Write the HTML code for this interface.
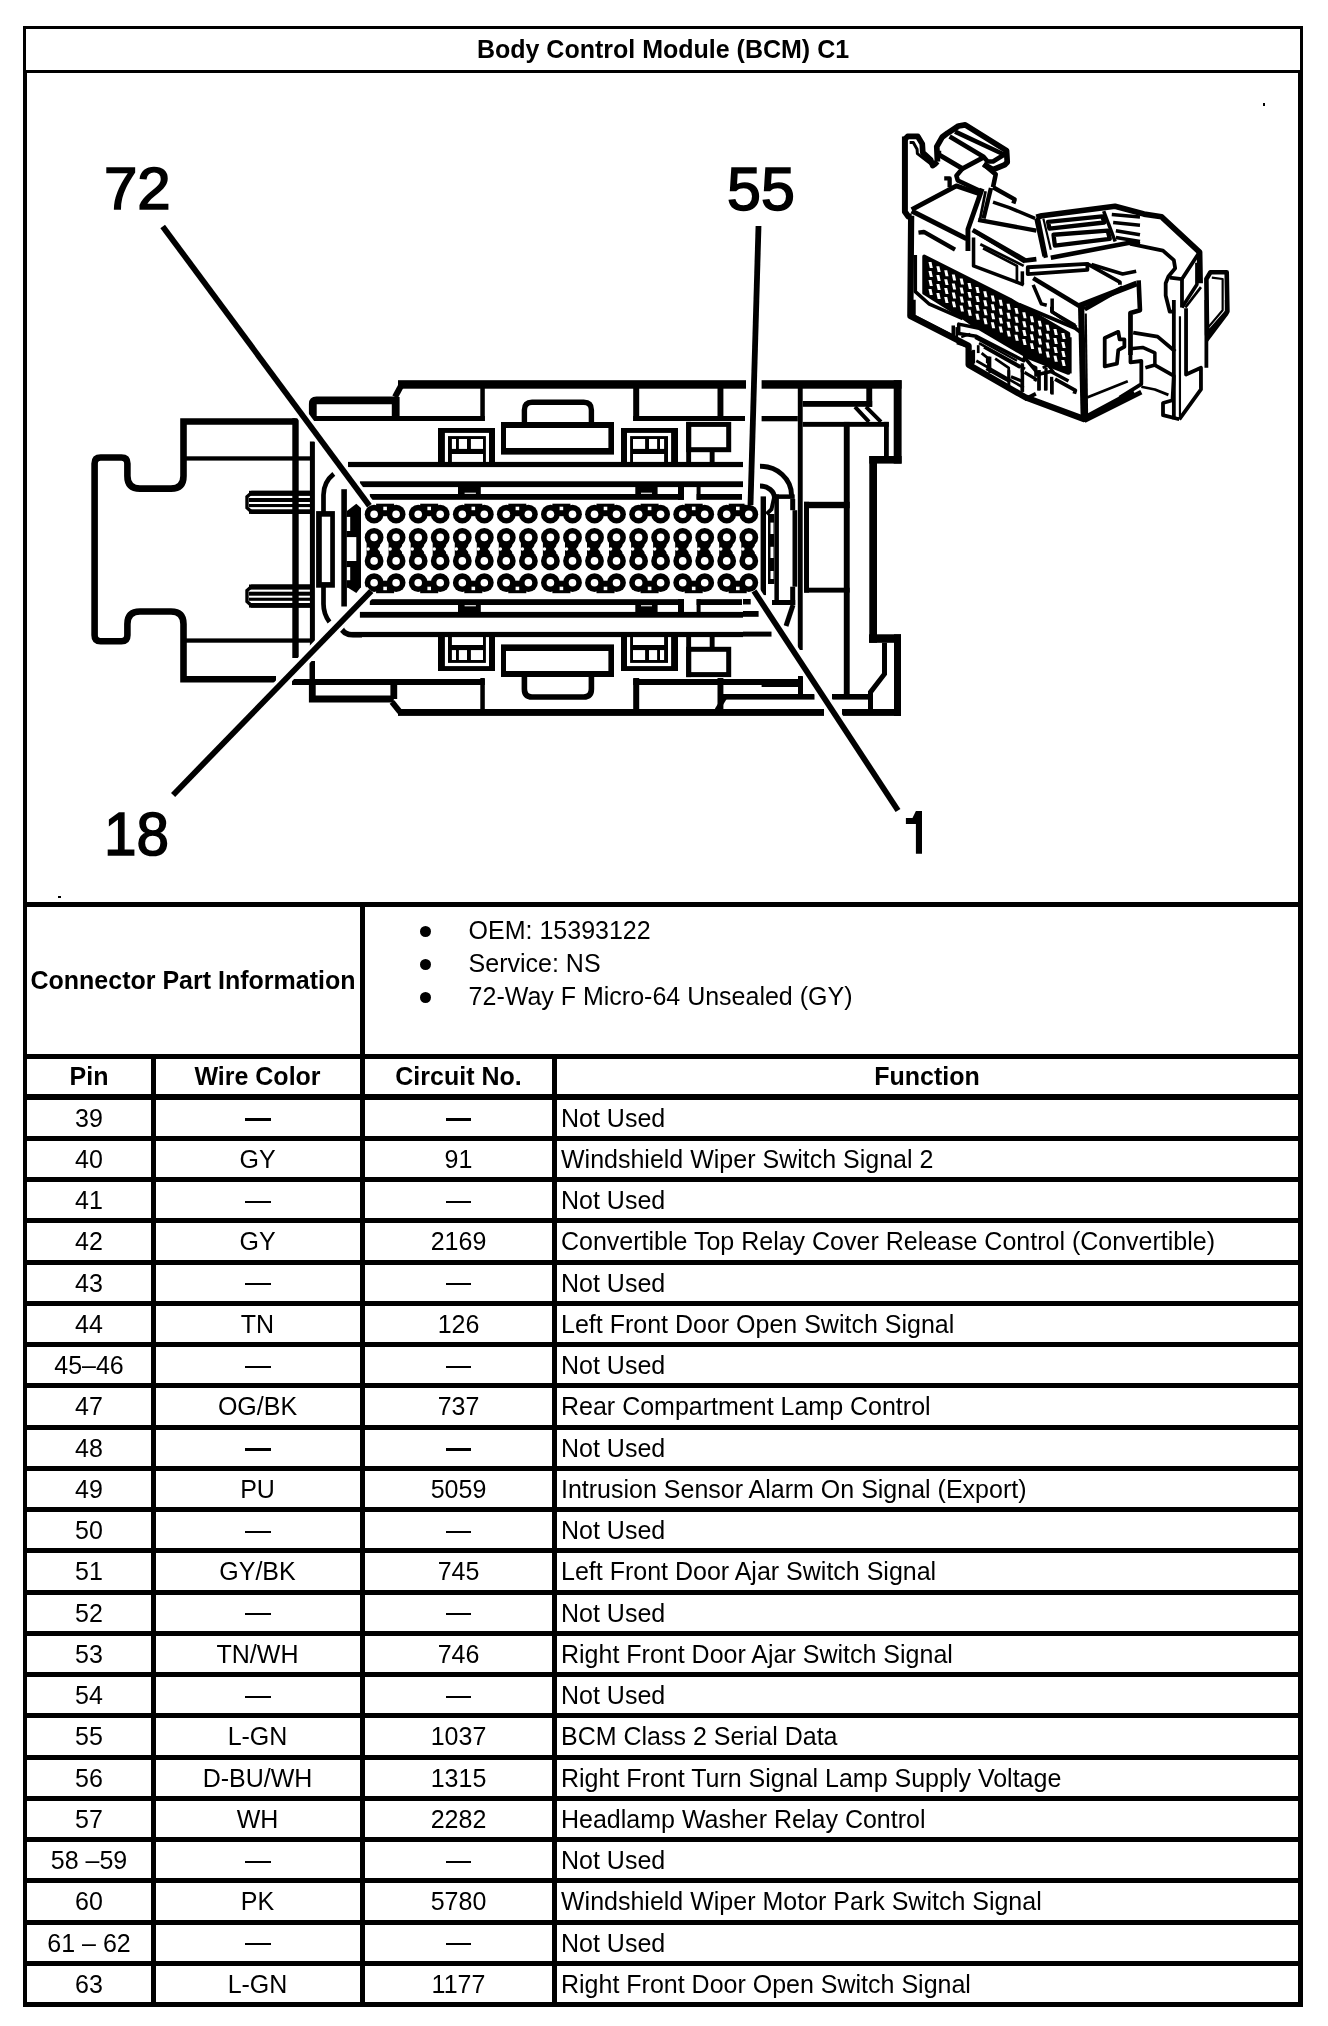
<!DOCTYPE html><html><head><meta charset="utf-8"><style>
html,body{margin:0;padding:0;background:#fff;width:1328px;height:2026px;overflow:hidden;position:relative}
body{filter:grayscale(1)}
.b{position:absolute;background:#000}
.t,.tb{position:absolute;font-family:"Liberation Sans",sans-serif;font-size:25px;line-height:0;color:#000;white-space:nowrap}
.tb{font-weight:bold}
.c{text-align:center}
.dot{position:absolute;width:11px;height:11px;border-radius:50%;background:#000}
svg{position:absolute;left:0;top:0}
</style></head><body>
<div class="b" style="left:23px;top:26px;width:1280px;height:3px"></div>
<div class="b" style="left:23px;top:70px;width:1280px;height:3px"></div>
<div class="b" style="left:23px;top:26px;width:3px;height:47px"></div>
<div class="b" style="left:1300px;top:26px;width:3px;height:47px"></div>
<div class="b" style="left:23px;top:70px;width:4px;height:1937px"></div>
<div class="b" style="left:1298px;top:70px;width:5px;height:1937px"></div>
<div class="b" style="left:23px;top:902px;width:1280px;height:5px"></div>
<div class="b" style="left:360px;top:902px;width:5px;height:1105px"></div>
<div class="b" style="left:23px;top:1054px;width:1280px;height:5px"></div>
<div class="b" style="left:23px;top:1094px;width:1280px;height:6px"></div>
<div class="b" style="left:151px;top:1054px;width:5px;height:953px"></div>
<div class="b" style="left:552px;top:1054px;width:5px;height:953px"></div>
<div class="b" style="left:23px;top:1136px;width:1280px;height:5px"></div>
<div class="b" style="left:23px;top:1177px;width:1280px;height:5px"></div>
<div class="b" style="left:23px;top:1218px;width:1280px;height:5px"></div>
<div class="b" style="left:23px;top:1260px;width:1280px;height:5px"></div>
<div class="b" style="left:23px;top:1301px;width:1280px;height:5px"></div>
<div class="b" style="left:23px;top:1342px;width:1280px;height:5px"></div>
<div class="b" style="left:23px;top:1383px;width:1280px;height:5px"></div>
<div class="b" style="left:23px;top:1425px;width:1280px;height:5px"></div>
<div class="b" style="left:23px;top:1466px;width:1280px;height:5px"></div>
<div class="b" style="left:23px;top:1507px;width:1280px;height:5px"></div>
<div class="b" style="left:23px;top:1548px;width:1280px;height:5px"></div>
<div class="b" style="left:23px;top:1590px;width:1280px;height:5px"></div>
<div class="b" style="left:23px;top:1631px;width:1280px;height:5px"></div>
<div class="b" style="left:23px;top:1672px;width:1280px;height:5px"></div>
<div class="b" style="left:23px;top:1713px;width:1280px;height:5px"></div>
<div class="b" style="left:23px;top:1755px;width:1280px;height:5px"></div>
<div class="b" style="left:23px;top:1796px;width:1280px;height:5px"></div>
<div class="b" style="left:23px;top:1837px;width:1280px;height:5px"></div>
<div class="b" style="left:23px;top:1878px;width:1280px;height:5px"></div>
<div class="b" style="left:23px;top:1920px;width:1280px;height:5px"></div>
<div class="b" style="left:23px;top:1961px;width:1280px;height:5px"></div>
<div class="b" style="left:23px;top:2002px;width:1280px;height:5px"></div>
<div class="b" style="left:58px;top:896px;width:3px;height:2px"></div>
<div class="tb c" style="left:363px;top:49.34px;width:600px;">Body Control Module (BCM) C1</div>
<div class="tb c" style="left:-107px;top:980.34px;width:600px;">Connector Part Information</div>
<div class="dot" style="left:419.5px;top:926.4px"></div>
<div class="t" style="left:468.6px;top:930.34px;">OEM: 15393122</div>
<div class="dot" style="left:419.5px;top:959.4px"></div>
<div class="t" style="left:468.6px;top:963.34px;">Service: NS</div>
<div class="dot" style="left:419.5px;top:992.4px"></div>
<div class="t" style="left:468.6px;top:996.34px;">72-Way F Micro-64 Unsealed (GY)</div>
<div class="tb c" style="left:-211px;top:1076.34px;width:600px;">Pin</div>
<div class="tb c" style="left:-42.5px;top:1076.34px;width:600px;">Wire Color</div>
<div class="tb c" style="left:158.5px;top:1076.34px;width:600px;">Circuit No.</div>
<div class="tb c" style="left:627px;top:1076.34px;width:600px;">Function</div>
<div class="t c" style="left:-211px;top:1117.74px;width:600px;">39</div>
<div class="b" style="left:245px;top:1118px;width:26px;height:3px"></div>
<div class="b" style="left:446px;top:1118px;width:25px;height:3px"></div>
<div class="t" style="left:561px;top:1117.74px;">Not Used</div>
<div class="t c" style="left:-211px;top:1158.98px;width:600px;">40</div>
<div class="t c" style="left:-42.5px;top:1158.98px;width:600px;">GY</div>
<div class="t c" style="left:158.5px;top:1158.98px;width:600px;">91</div>
<div class="t" style="left:561px;top:1158.98px;">Windshield Wiper Switch Signal 2</div>
<div class="t c" style="left:-211px;top:1200.22px;width:600px;">41</div>
<div class="b" style="left:245px;top:1201px;width:26px;height:2px"></div>
<div class="b" style="left:446px;top:1201px;width:25px;height:2px"></div>
<div class="t" style="left:561px;top:1200.22px;">Not Used</div>
<div class="t c" style="left:-211px;top:1241.46px;width:600px;">42</div>
<div class="t c" style="left:-42.5px;top:1241.46px;width:600px;">GY</div>
<div class="t c" style="left:158.5px;top:1241.46px;width:600px;">2169</div>
<div class="t" style="left:561px;top:1241.46px;">Convertible Top Relay Cover Release Control (Convertible)</div>
<div class="t c" style="left:-211px;top:1282.7px;width:600px;">43</div>
<div class="b" style="left:245px;top:1283px;width:26px;height:2px"></div>
<div class="b" style="left:446px;top:1283px;width:25px;height:2px"></div>
<div class="t" style="left:561px;top:1282.7px;">Not Used</div>
<div class="t c" style="left:-211px;top:1323.94px;width:600px;">44</div>
<div class="t c" style="left:-42.5px;top:1323.94px;width:600px;">TN</div>
<div class="t c" style="left:158.5px;top:1323.94px;width:600px;">126</div>
<div class="t" style="left:561px;top:1323.94px;">Left Front Door Open Switch Signal</div>
<div class="t c" style="left:-211px;top:1365.18px;width:600px;">45–46</div>
<div class="b" style="left:245px;top:1366px;width:26px;height:2px"></div>
<div class="b" style="left:446px;top:1366px;width:25px;height:2px"></div>
<div class="t" style="left:561px;top:1365.18px;">Not Used</div>
<div class="t c" style="left:-211px;top:1406.42px;width:600px;">47</div>
<div class="t c" style="left:-42.5px;top:1406.42px;width:600px;">OG/BK</div>
<div class="t c" style="left:158.5px;top:1406.42px;width:600px;">737</div>
<div class="t" style="left:561px;top:1406.42px;">Rear Compartment Lamp Control</div>
<div class="t c" style="left:-211px;top:1447.66px;width:600px;">48</div>
<div class="b" style="left:245px;top:1448px;width:26px;height:3px"></div>
<div class="b" style="left:446px;top:1448px;width:25px;height:3px"></div>
<div class="t" style="left:561px;top:1447.66px;">Not Used</div>
<div class="t c" style="left:-211px;top:1488.9px;width:600px;">49</div>
<div class="t c" style="left:-42.5px;top:1488.9px;width:600px;">PU</div>
<div class="t c" style="left:158.5px;top:1488.9px;width:600px;">5059</div>
<div class="t" style="left:561px;top:1488.9px;">Intrusion Sensor Alarm On Signal (Export)</div>
<div class="t c" style="left:-211px;top:1530.14px;width:600px;">50</div>
<div class="b" style="left:245px;top:1531px;width:26px;height:2px"></div>
<div class="b" style="left:446px;top:1531px;width:25px;height:2px"></div>
<div class="t" style="left:561px;top:1530.14px;">Not Used</div>
<div class="t c" style="left:-211px;top:1571.38px;width:600px;">51</div>
<div class="t c" style="left:-42.5px;top:1571.38px;width:600px;">GY/BK</div>
<div class="t c" style="left:158.5px;top:1571.38px;width:600px;">745</div>
<div class="t" style="left:561px;top:1571.38px;">Left Front Door Ajar Switch Signal</div>
<div class="t c" style="left:-211px;top:1612.62px;width:600px;">52</div>
<div class="b" style="left:245px;top:1613px;width:26px;height:2px"></div>
<div class="b" style="left:446px;top:1613px;width:25px;height:2px"></div>
<div class="t" style="left:561px;top:1612.62px;">Not Used</div>
<div class="t c" style="left:-211px;top:1653.86px;width:600px;">53</div>
<div class="t c" style="left:-42.5px;top:1653.86px;width:600px;">TN/WH</div>
<div class="t c" style="left:158.5px;top:1653.86px;width:600px;">746</div>
<div class="t" style="left:561px;top:1653.86px;">Right Front Door Ajar Switch Signal</div>
<div class="t c" style="left:-211px;top:1695.1px;width:600px;">54</div>
<div class="b" style="left:245px;top:1696px;width:26px;height:2px"></div>
<div class="b" style="left:446px;top:1696px;width:25px;height:2px"></div>
<div class="t" style="left:561px;top:1695.1px;">Not Used</div>
<div class="t c" style="left:-211px;top:1736.34px;width:600px;">55</div>
<div class="t c" style="left:-42.5px;top:1736.34px;width:600px;">L-GN</div>
<div class="t c" style="left:158.5px;top:1736.34px;width:600px;">1037</div>
<div class="t" style="left:561px;top:1736.34px;">BCM Class 2 Serial Data</div>
<div class="t c" style="left:-211px;top:1777.58px;width:600px;">56</div>
<div class="t c" style="left:-42.5px;top:1777.58px;width:600px;">D-BU/WH</div>
<div class="t c" style="left:158.5px;top:1777.58px;width:600px;">1315</div>
<div class="t" style="left:561px;top:1777.58px;">Right Front Turn Signal Lamp Supply Voltage</div>
<div class="t c" style="left:-211px;top:1818.82px;width:600px;">57</div>
<div class="t c" style="left:-42.5px;top:1818.82px;width:600px;">WH</div>
<div class="t c" style="left:158.5px;top:1818.82px;width:600px;">2282</div>
<div class="t" style="left:561px;top:1818.82px;">Headlamp Washer Relay Control</div>
<div class="t c" style="left:-211px;top:1860.06px;width:600px;">58 –59</div>
<div class="b" style="left:245px;top:1861px;width:26px;height:2px"></div>
<div class="b" style="left:446px;top:1861px;width:25px;height:2px"></div>
<div class="t" style="left:561px;top:1860.06px;">Not Used</div>
<div class="t c" style="left:-211px;top:1901.3px;width:600px;">60</div>
<div class="t c" style="left:-42.5px;top:1901.3px;width:600px;">PK</div>
<div class="t c" style="left:158.5px;top:1901.3px;width:600px;">5780</div>
<div class="t" style="left:561px;top:1901.3px;">Windshield Wiper Motor Park Switch Signal</div>
<div class="t c" style="left:-211px;top:1942.54px;width:600px;">61 – 62</div>
<div class="b" style="left:245px;top:1943px;width:26px;height:2px"></div>
<div class="b" style="left:446px;top:1943px;width:25px;height:2px"></div>
<div class="t" style="left:561px;top:1942.54px;">Not Used</div>
<div class="t c" style="left:-211px;top:1983.78px;width:600px;">63</div>
<div class="t c" style="left:-42.5px;top:1983.78px;width:600px;">L-GN</div>
<div class="t c" style="left:158.5px;top:1983.78px;width:600px;">1177</div>
<div class="t" style="left:561px;top:1983.78px;">Right Front Door Open Switch Signal</div>
<svg width="1328" height="2026" viewBox="0 0 1328 2026">
<path d="M 295.5 421.5 L 183.5 421.5 L 183.5 476 Q 183.5 488.6 171 488.6 L 140 488.6 Q 127.4 488.6 127.4 476 L 127.4 463.5 Q 127.4 457.5 121.4 457.5 L 100.6 457.5 Q 94.6 457.5 94.6 463.5 L 94.6 635.3 Q 94.6 641.3 100.6 641.3 L 121.4 641.3 Q 127.4 641.3 127.4 635.3 L 127.4 624 Q 127.4 611.5 140 611.5 L 171 611.5 Q 183.5 611.5 183.5 624 L 183.5 679.3 L 276 679.3" fill="none" stroke="#000" stroke-width="6.6" />
<rect x="292.3" y="418.2" width="6.4" height="239.8" fill="#000"/>
<rect x="183.5" y="456.3" width="128.5" height="4.3" fill="#000"/>
<rect x="183.5" y="638.4" width="128.5" height="4.3" fill="#000"/>
<path d="M 310 492.40000000000003 L 252 492.40000000000003 L 247 496.8 L 247 507.8 L 252 512.3 L 310 512.3" fill="none" stroke="#000" stroke-width="3.4" />
<rect x="249.0" y="498.0" width="61.0" height="4.0" fill="#000"/>
<rect x="249.0" y="504.0" width="61.0" height="3.1" fill="#000"/>
<rect x="249.0" y="509.3" width="61.0" height="4.6" fill="#000"/>
<rect x="249.0" y="490.8" width="61.0" height="5.1" fill="#000"/>
<path d="M 310 586.1 L 252 586.1 L 247 590.5 L 247 601.5 L 252 606.0 L 310 606.0" fill="none" stroke="#000" stroke-width="3.4" />
<rect x="249.0" y="591.7" width="61.0" height="4.0" fill="#000"/>
<rect x="249.0" y="597.7" width="61.0" height="3.1" fill="#000"/>
<rect x="249.0" y="603.0" width="61.0" height="4.6" fill="#000"/>
<rect x="249.0" y="584.5" width="61.0" height="5.1" fill="#000"/>
<rect x="309.9" y="441.5" width="5.0" height="216.0" fill="#000"/>
<path d="M 333.8 473.8 Q 323.5 482 323.5 495 L 323.5 604 Q 323.5 614 329.5 622" fill="none" stroke="#000" stroke-width="4.7" />
<rect x="316.1" y="511.1" width="18.8" height="76.6" fill="#000"/>
<rect x="321.8" y="516.7" width="8.4" height="65.4" fill="#fff"/>
<path d="M 344.1 489.2 L 344.1 606.5" fill="none" stroke="#000" stroke-width="5.6" />
<rect x="346.9" y="511.0" width="14.1" height="76.7" fill="#000"/>
<rect x="346.9" y="516.9" width="3.3" height="14.1" fill="#fff"/>
<rect x="346.9" y="537.1" width="9.4" height="23.9" fill="#fff"/>
<rect x="346.9" y="567.1" width="3.3" height="13.1" fill="#fff"/>
<rect x="398.0" y="380.2" width="348.0" height="8.5" fill="#000"/>
<rect x="761.6" y="380.2" width="140.0" height="8.5" fill="#000"/>
<rect x="398.0" y="709.0" width="426.0" height="6.9" fill="#000"/>
<rect x="842.0" y="709.0" width="59.0" height="6.9" fill="#000"/>
<path d="M 395 397 L 402 384" fill="none" stroke="#000" stroke-width="6" />
<path d="M 392 702 L 400 712" fill="none" stroke="#000" stroke-width="6" />
<path d="M 395.7 397 L 395.7 418.5 M 312.8 418.5 L 312.8 404 Q 312.8 400.4 316.5 400.4 L 395.7 400.4" fill="none" stroke="#000" stroke-width="7.8" stroke-linejoin="miter"/>
<path d="M 393.8 680 L 393.8 699 M 312.3 680 L 312.3 699 L 393.8 699" fill="none" stroke="#000" stroke-width="6.8" />
<rect x="308.9" y="416.0" width="175.9" height="5.0" fill="#000"/>
<rect x="292.0" y="679.0" width="192.8" height="6.0" fill="#000"/>
<rect x="309.5" y="661.0" width="5.5" height="41.0" fill="#000"/>
<path d="M 341 627 Q 343 634.8 353 634.8 L 362 634.8" fill="none" stroke="#000" stroke-width="5.3" />
<polygon points="346.9,511 356.3,503.8 361,508 361,511" fill="#000"/>
<polygon points="346.9,587 361,587 356.3,593" fill="#000"/>
<rect x="480.3" y="386.0" width="4.5" height="35.0" fill="#000"/>
<rect x="480.3" y="678.0" width="4.5" height="35.0" fill="#000"/>
<rect x="633.2" y="386.0" width="6.0" height="35.0" fill="#000"/>
<rect x="633.2" y="678.0" width="6.0" height="35.0" fill="#000"/>
<rect x="717.5" y="386.0" width="5.9" height="35.0" fill="#000"/>
<rect x="717.5" y="678.0" width="5.9" height="35.0" fill="#000"/>
<rect x="633.2" y="416.0" width="111.8" height="5.0" fill="#000"/>
<rect x="633.2" y="679.0" width="165.4" height="6.0" fill="#000"/>
<rect x="761.6" y="416.0" width="36.2" height="5.3" fill="#000"/>
<rect x="761.6" y="680.8" width="37.0" height="6.2" fill="#000"/>
<path d="M 524.4 422 L 524.4 410 Q 524.4 402.2 532 402.2 L 583.7 402.2 Q 591.4 402.2 591.4 410 L 591.4 422" fill="none" stroke="#000" stroke-width="5.4" />
<path d="M 524.4 677 L 524.4 689 Q 524.4 697 532 697 L 583.7 697 Q 591.4 697 591.4 689 L 591.4 677" fill="none" stroke="#000" stroke-width="5.6" />
<rect x="501.0" y="422.0" width="113.0" height="32.6" fill="#000"/>
<rect x="501.0" y="644.4" width="113.0" height="32.6" fill="#000"/>
<rect x="506.0" y="428.0" width="102.4" height="20.0" fill="#fff"/>
<rect x="506.0" y="651.0" width="102.4" height="20.0" fill="#fff"/>
<rect x="438.0" y="428.0" width="57.0" height="34.2" fill="#000"/>
<rect x="438.0" y="636.8" width="57.0" height="34.2" fill="#000"/>
<rect x="444.9" y="432.9" width="44.1" height="29.3" fill="#fff"/>
<rect x="444.9" y="636.8" width="44.1" height="29.3" fill="#fff"/>
<rect x="448.0" y="436.1" width="37.9" height="26.1" fill="#000"/>
<rect x="448.0" y="636.8" width="37.9" height="26.1" fill="#000"/>
<rect x="451.9" y="439.0" width="4.1" height="9.9" fill="#fff"/>
<rect x="451.9" y="650.1" width="4.1" height="9.9" fill="#fff"/>
<rect x="458.9" y="439.0" width="8.1" height="9.9" fill="#fff"/>
<rect x="458.9" y="650.1" width="8.1" height="9.9" fill="#fff"/>
<rect x="470.9" y="439.0" width="12.1" height="9.9" fill="#fff"/>
<rect x="470.9" y="650.1" width="12.1" height="9.9" fill="#fff"/>
<rect x="451.9" y="454.0" width="31.1" height="8.2" fill="#fff"/>
<rect x="451.9" y="636.8" width="31.1" height="8.2" fill="#fff"/>
<rect x="621.0" y="428.0" width="57.0" height="34.2" fill="#000"/>
<rect x="621.0" y="636.8" width="57.0" height="34.2" fill="#000"/>
<rect x="627.0" y="432.9" width="44.1" height="29.3" fill="#fff"/>
<rect x="627.0" y="636.8" width="44.1" height="29.3" fill="#fff"/>
<rect x="630.1" y="436.1" width="37.9" height="26.1" fill="#000"/>
<rect x="630.1" y="636.8" width="37.9" height="26.1" fill="#000"/>
<rect x="660.0" y="439.0" width="4.1" height="9.9" fill="#fff"/>
<rect x="660.0" y="650.1" width="4.1" height="9.9" fill="#fff"/>
<rect x="649.0" y="439.0" width="8.1" height="9.9" fill="#fff"/>
<rect x="649.0" y="650.1" width="8.1" height="9.9" fill="#fff"/>
<rect x="633.0" y="439.0" width="12.1" height="9.9" fill="#fff"/>
<rect x="633.0" y="650.1" width="12.1" height="9.9" fill="#fff"/>
<rect x="633.0" y="454.0" width="31.1" height="8.2" fill="#fff"/>
<rect x="633.0" y="636.8" width="31.1" height="8.2" fill="#fff"/>
<rect x="686.2" y="421.9" width="45.0" height="30.3" fill="#000"/>
<rect x="686.2" y="646.8" width="45.0" height="30.3" fill="#000"/>
<rect x="691.2" y="426.9" width="35.0" height="20.3" fill="#fff"/>
<rect x="691.2" y="651.8" width="35.0" height="20.3" fill="#fff"/>
<rect x="709.7" y="452.0" width="4.9" height="10.0" fill="#000"/>
<rect x="709.7" y="637.0" width="4.9" height="10.0" fill="#000"/>
<rect x="686.2" y="421.9" width="4.9" height="40.1" fill="#000"/>
<rect x="686.2" y="637.0" width="4.9" height="40.1" fill="#000"/>
<rect x="348.0" y="461.9" width="395.0" height="5.2" fill="#000"/>
<rect x="348.0" y="631.9" width="395.0" height="5.2" fill="#000"/>
<rect x="359.9" y="481.3" width="383.1" height="5.8" fill="#000"/>
<rect x="359.9" y="611.9" width="383.1" height="5.8" fill="#000"/>
<rect x="369.8" y="494.0" width="314.2" height="5.8" fill="#000"/>
<rect x="369.8" y="599.2" width="314.2" height="5.8" fill="#000"/>
<rect x="696.6" y="494.0" width="45.4" height="5.8" fill="#000"/>
<rect x="696.6" y="599.2" width="45.4" height="5.8" fill="#000"/>
<rect x="458.0" y="486.0" width="22.8" height="9.0" fill="#000"/>
<rect x="458.0" y="604.0" width="22.8" height="9.0" fill="#000"/>
<rect x="464.6" y="492.7" width="11.3" height="1.1" fill="#fff"/>
<rect x="464.6" y="605.2" width="11.3" height="1.1" fill="#fff"/>
<rect x="635.3" y="486.0" width="22.3" height="9.0" fill="#000"/>
<rect x="635.3" y="604.0" width="22.3" height="9.0" fill="#000"/>
<rect x="641.0" y="492.7" width="11.0" height="1.1" fill="#fff"/>
<rect x="641.0" y="605.2" width="11.0" height="1.1" fill="#fff"/>
<rect x="678.0" y="486.0" width="6.0" height="13.8" fill="#000"/>
<rect x="678.0" y="599.2" width="6.0" height="13.8" fill="#000"/>
<rect x="696.6" y="486.0" width="4.0" height="13.8" fill="#000"/>
<rect x="696.6" y="599.2" width="4.0" height="13.8" fill="#000"/>
<rect x="893.7" y="380.2" width="7.9" height="83.4" fill="#000"/>
<rect x="869.3" y="456.0" width="32.3" height="7.6" fill="#000"/>
<rect x="869.3" y="456.0" width="7.7" height="186.8" fill="#000"/>
<rect x="869.0" y="634.3" width="32.0" height="8.5" fill="#000"/>
<rect x="894.0" y="634.3" width="7.0" height="81.6" fill="#000"/>
<rect x="884.0" y="421.9" width="4.8" height="34.1" fill="#000"/>
<path d="M 884.5 642.8 L 884.5 674 L 870.5 692.2 L 870.5 709" fill="none" stroke="#000" stroke-width="5" />
<rect x="797.8" y="386.0" width="4.9" height="264.0" fill="#000"/>
<rect x="798.0" y="676.0" width="5.0" height="18.0" fill="#000"/>
<rect x="802.7" y="401.0" width="69.5" height="5.8" fill="#000"/>
<rect x="866.3" y="386.0" width="5.9" height="20.8" fill="#000"/>
<path d="M 855 406.8 L 869 421.9 M 866 406.8 L 881 421.9" fill="none" stroke="#000" stroke-width="4" />
<rect x="802.7" y="421.9" width="86.1" height="4.9" fill="#000"/>
<rect x="843.8" y="421.9" width="5.9" height="272.5" fill="#000"/>
<rect x="804.0" y="501.8" width="45.7" height="6.4" fill="#000"/>
<rect x="804.0" y="501.8" width="5.0" height="90.8" fill="#000"/>
<rect x="804.0" y="587.7" width="45.7" height="4.9" fill="#000"/>
<rect x="832.0" y="694.0" width="37.0" height="5.6" fill="#000"/>
<rect x="722.0" y="694.0" width="92.5" height="5.6" fill="#000"/>
<path d="M 717 710 L 725 697" fill="none" stroke="#000" stroke-width="5" />
<path d="M 760 466.3 A 31 29 0 0 1 791.5 495" fill="none" stroke="#000" stroke-width="5" />
<path d="M 760 486 A 14.5 12 0 0 1 774.5 498" fill="none" stroke="#000" stroke-width="5" />
<path d="M 774 498 L 771.5 509.2 L 766.5 514.2" fill="none" stroke="#000" stroke-width="4" />
<rect x="760.6" y="496.4" width="5.4" height="98.7" fill="#000"/>
<rect x="768.0" y="514.0" width="6.4" height="70.0" fill="#000"/>
<rect x="770.5" y="522.6" width="3.0" height="11.4" fill="#fff"/>
<rect x="770.5" y="546.8" width="3.0" height="11.2" fill="#fff"/>
<rect x="770.5" y="571.0" width="3.0" height="8.0" fill="#fff"/>
<rect x="774.4" y="494.4" width="4.5" height="110.6" fill="#000"/>
<rect x="774.4" y="494.4" width="20.3" height="4.5" fill="#000"/>
<rect x="790.2" y="498.9" width="5.0" height="11.3" fill="#000"/>
<rect x="792.5" y="510.2" width="4.7" height="76.5" fill="#000"/>
<rect x="790.2" y="586.7" width="5.0" height="18.3" fill="#000"/>
<rect x="772.0" y="600.0" width="23.2" height="5.0" fill="#000"/>
<path d="M 793 605 L 786 626" fill="none" stroke="#000" stroke-width="5" />
<rect x="743.0" y="599.0" width="7.7" height="5.5" fill="#000"/>
<rect x="743.0" y="611.0" width="15.6" height="5.8" fill="#000"/>
<rect x="743.0" y="631.6" width="28.5" height="5.0" fill="#000"/>
<circle cx="374.1" cy="514.2" r="9.4" fill="#000"/>
<circle cx="374.1" cy="537.4" r="9.4" fill="#000"/>
<circle cx="374.1" cy="560.9" r="9.4" fill="#000"/>
<circle cx="374.1" cy="582.7" r="9.4" fill="#000"/>
<rect x="366.6" y="537.4" width="13.5" height="23.5" fill="#000"/>
<circle cx="396.1" cy="514.2" r="9.4" fill="#000"/>
<circle cx="396.1" cy="537.4" r="9.4" fill="#000"/>
<circle cx="396.1" cy="560.9" r="9.4" fill="#000"/>
<circle cx="396.1" cy="582.7" r="9.4" fill="#000"/>
<rect x="388.6" y="537.4" width="13.5" height="23.5" fill="#000"/>
<circle cx="418.2" cy="514.2" r="9.4" fill="#000"/>
<circle cx="418.2" cy="537.4" r="9.4" fill="#000"/>
<circle cx="418.2" cy="560.9" r="9.4" fill="#000"/>
<circle cx="418.2" cy="582.7" r="9.4" fill="#000"/>
<rect x="410.7" y="537.4" width="13.5" height="23.5" fill="#000"/>
<circle cx="440.2" cy="514.2" r="9.4" fill="#000"/>
<circle cx="440.2" cy="537.4" r="9.4" fill="#000"/>
<circle cx="440.2" cy="560.9" r="9.4" fill="#000"/>
<circle cx="440.2" cy="582.7" r="9.4" fill="#000"/>
<rect x="432.7" y="537.4" width="13.5" height="23.5" fill="#000"/>
<circle cx="462.3" cy="514.2" r="9.4" fill="#000"/>
<circle cx="462.3" cy="537.4" r="9.4" fill="#000"/>
<circle cx="462.3" cy="560.9" r="9.4" fill="#000"/>
<circle cx="462.3" cy="582.7" r="9.4" fill="#000"/>
<rect x="454.8" y="537.4" width="13.5" height="23.5" fill="#000"/>
<circle cx="484.3" cy="514.2" r="9.4" fill="#000"/>
<circle cx="484.3" cy="537.4" r="9.4" fill="#000"/>
<circle cx="484.3" cy="560.9" r="9.4" fill="#000"/>
<circle cx="484.3" cy="582.7" r="9.4" fill="#000"/>
<rect x="476.8" y="537.4" width="13.5" height="23.5" fill="#000"/>
<circle cx="506.3" cy="514.2" r="9.4" fill="#000"/>
<circle cx="506.3" cy="537.4" r="9.4" fill="#000"/>
<circle cx="506.3" cy="560.9" r="9.4" fill="#000"/>
<circle cx="506.3" cy="582.7" r="9.4" fill="#000"/>
<rect x="498.8" y="537.4" width="13.5" height="23.5" fill="#000"/>
<circle cx="528.4" cy="514.2" r="9.4" fill="#000"/>
<circle cx="528.4" cy="537.4" r="9.4" fill="#000"/>
<circle cx="528.4" cy="560.9" r="9.4" fill="#000"/>
<circle cx="528.4" cy="582.7" r="9.4" fill="#000"/>
<rect x="520.9" y="537.4" width="13.5" height="23.5" fill="#000"/>
<circle cx="550.4" cy="514.2" r="9.4" fill="#000"/>
<circle cx="550.4" cy="537.4" r="9.4" fill="#000"/>
<circle cx="550.4" cy="560.9" r="9.4" fill="#000"/>
<circle cx="550.4" cy="582.7" r="9.4" fill="#000"/>
<rect x="542.9" y="537.4" width="13.5" height="23.5" fill="#000"/>
<circle cx="572.5" cy="514.2" r="9.4" fill="#000"/>
<circle cx="572.5" cy="537.4" r="9.4" fill="#000"/>
<circle cx="572.5" cy="560.9" r="9.4" fill="#000"/>
<circle cx="572.5" cy="582.7" r="9.4" fill="#000"/>
<rect x="565.0" y="537.4" width="13.5" height="23.5" fill="#000"/>
<circle cx="594.5" cy="514.2" r="9.4" fill="#000"/>
<circle cx="594.5" cy="537.4" r="9.4" fill="#000"/>
<circle cx="594.5" cy="560.9" r="9.4" fill="#000"/>
<circle cx="594.5" cy="582.7" r="9.4" fill="#000"/>
<rect x="587.0" y="537.4" width="13.5" height="23.5" fill="#000"/>
<circle cx="616.5" cy="514.2" r="9.4" fill="#000"/>
<circle cx="616.5" cy="537.4" r="9.4" fill="#000"/>
<circle cx="616.5" cy="560.9" r="9.4" fill="#000"/>
<circle cx="616.5" cy="582.7" r="9.4" fill="#000"/>
<rect x="609.0" y="537.4" width="13.5" height="23.5" fill="#000"/>
<circle cx="638.6" cy="514.2" r="9.4" fill="#000"/>
<circle cx="638.6" cy="537.4" r="9.4" fill="#000"/>
<circle cx="638.6" cy="560.9" r="9.4" fill="#000"/>
<circle cx="638.6" cy="582.7" r="9.4" fill="#000"/>
<rect x="631.1" y="537.4" width="13.5" height="23.5" fill="#000"/>
<circle cx="660.6" cy="514.2" r="9.4" fill="#000"/>
<circle cx="660.6" cy="537.4" r="9.4" fill="#000"/>
<circle cx="660.6" cy="560.9" r="9.4" fill="#000"/>
<circle cx="660.6" cy="582.7" r="9.4" fill="#000"/>
<rect x="653.1" y="537.4" width="13.5" height="23.5" fill="#000"/>
<circle cx="682.7" cy="514.2" r="9.4" fill="#000"/>
<circle cx="682.7" cy="537.4" r="9.4" fill="#000"/>
<circle cx="682.7" cy="560.9" r="9.4" fill="#000"/>
<circle cx="682.7" cy="582.7" r="9.4" fill="#000"/>
<rect x="675.2" y="537.4" width="13.5" height="23.5" fill="#000"/>
<circle cx="704.7" cy="514.2" r="9.4" fill="#000"/>
<circle cx="704.7" cy="537.4" r="9.4" fill="#000"/>
<circle cx="704.7" cy="560.9" r="9.4" fill="#000"/>
<circle cx="704.7" cy="582.7" r="9.4" fill="#000"/>
<rect x="697.2" y="537.4" width="13.5" height="23.5" fill="#000"/>
<circle cx="726.7" cy="514.2" r="9.4" fill="#000"/>
<circle cx="726.7" cy="537.4" r="9.4" fill="#000"/>
<circle cx="726.7" cy="560.9" r="9.4" fill="#000"/>
<circle cx="726.7" cy="582.7" r="9.4" fill="#000"/>
<rect x="719.2" y="537.4" width="13.5" height="23.5" fill="#000"/>
<circle cx="748.8" cy="514.2" r="9.4" fill="#000"/>
<circle cx="748.8" cy="537.4" r="9.4" fill="#000"/>
<circle cx="748.8" cy="560.9" r="9.4" fill="#000"/>
<circle cx="748.8" cy="582.7" r="9.4" fill="#000"/>
<rect x="741.3" y="537.4" width="13.5" height="23.5" fill="#000"/>
<rect x="376.1" y="503.7" width="18.0" height="12.5" fill="#000"/>
<rect x="376.1" y="580.7" width="18.0" height="12.5" fill="#000"/>
<rect x="420.2" y="503.7" width="18.0" height="12.5" fill="#000"/>
<rect x="420.2" y="580.7" width="18.0" height="12.5" fill="#000"/>
<rect x="464.3" y="503.7" width="18.0" height="12.5" fill="#000"/>
<rect x="464.3" y="580.7" width="18.0" height="12.5" fill="#000"/>
<rect x="508.3" y="503.7" width="18.0" height="12.5" fill="#000"/>
<rect x="508.3" y="580.7" width="18.0" height="12.5" fill="#000"/>
<rect x="552.4" y="503.7" width="18.0" height="12.5" fill="#000"/>
<rect x="552.4" y="580.7" width="18.0" height="12.5" fill="#000"/>
<rect x="596.5" y="503.7" width="18.0" height="12.5" fill="#000"/>
<rect x="596.5" y="580.7" width="18.0" height="12.5" fill="#000"/>
<rect x="640.6" y="503.7" width="18.0" height="12.5" fill="#000"/>
<rect x="640.6" y="580.7" width="18.0" height="12.5" fill="#000"/>
<rect x="684.7" y="503.7" width="18.0" height="12.5" fill="#000"/>
<rect x="684.7" y="580.7" width="18.0" height="12.5" fill="#000"/>
<rect x="728.7" y="503.7" width="18.0" height="12.5" fill="#000"/>
<rect x="728.7" y="580.7" width="18.0" height="12.5" fill="#000"/>
<circle cx="374.1" cy="514.2" r="3.8" fill="#fff"/>
<circle cx="374.1" cy="537.4" r="3.8" fill="#fff"/>
<circle cx="374.1" cy="560.9" r="3.8" fill="#fff"/>
<circle cx="374.1" cy="582.7" r="3.8" fill="#fff"/>
<circle cx="368.1" cy="549.0" r="1.8" fill="#fff"/>
<polygon points="384.1,541 377.6,549 384.1,557" fill="#fff"/>
<circle cx="396.1" cy="514.2" r="3.8" fill="#fff"/>
<circle cx="396.1" cy="537.4" r="3.8" fill="#fff"/>
<circle cx="396.1" cy="560.9" r="3.8" fill="#fff"/>
<circle cx="396.1" cy="582.7" r="3.8" fill="#fff"/>
<circle cx="390.1" cy="549.0" r="1.8" fill="#fff"/>
<polygon points="406.1,541 399.6,549 406.1,557" fill="#fff"/>
<circle cx="418.2" cy="514.2" r="3.8" fill="#fff"/>
<circle cx="418.2" cy="537.4" r="3.8" fill="#fff"/>
<circle cx="418.2" cy="560.9" r="3.8" fill="#fff"/>
<circle cx="418.2" cy="582.7" r="3.8" fill="#fff"/>
<circle cx="412.2" cy="549.0" r="1.8" fill="#fff"/>
<polygon points="428.2,541 421.7,549 428.2,557" fill="#fff"/>
<circle cx="440.2" cy="514.2" r="3.8" fill="#fff"/>
<circle cx="440.2" cy="537.4" r="3.8" fill="#fff"/>
<circle cx="440.2" cy="560.9" r="3.8" fill="#fff"/>
<circle cx="440.2" cy="582.7" r="3.8" fill="#fff"/>
<circle cx="434.2" cy="549.0" r="1.8" fill="#fff"/>
<polygon points="450.2,541 443.7,549 450.2,557" fill="#fff"/>
<circle cx="462.3" cy="514.2" r="3.8" fill="#fff"/>
<circle cx="462.3" cy="537.4" r="3.8" fill="#fff"/>
<circle cx="462.3" cy="560.9" r="3.8" fill="#fff"/>
<circle cx="462.3" cy="582.7" r="3.8" fill="#fff"/>
<circle cx="456.3" cy="549.0" r="1.8" fill="#fff"/>
<polygon points="472.3,541 465.8,549 472.3,557" fill="#fff"/>
<circle cx="484.3" cy="514.2" r="3.8" fill="#fff"/>
<circle cx="484.3" cy="537.4" r="3.8" fill="#fff"/>
<circle cx="484.3" cy="560.9" r="3.8" fill="#fff"/>
<circle cx="484.3" cy="582.7" r="3.8" fill="#fff"/>
<circle cx="478.3" cy="549.0" r="1.8" fill="#fff"/>
<polygon points="494.3,541 487.8,549 494.3,557" fill="#fff"/>
<circle cx="506.3" cy="514.2" r="3.8" fill="#fff"/>
<circle cx="506.3" cy="537.4" r="3.8" fill="#fff"/>
<circle cx="506.3" cy="560.9" r="3.8" fill="#fff"/>
<circle cx="506.3" cy="582.7" r="3.8" fill="#fff"/>
<circle cx="500.3" cy="549.0" r="1.8" fill="#fff"/>
<polygon points="516.3,541 509.8,549 516.3,557" fill="#fff"/>
<circle cx="528.4" cy="514.2" r="3.8" fill="#fff"/>
<circle cx="528.4" cy="537.4" r="3.8" fill="#fff"/>
<circle cx="528.4" cy="560.9" r="3.8" fill="#fff"/>
<circle cx="528.4" cy="582.7" r="3.8" fill="#fff"/>
<circle cx="522.4" cy="549.0" r="1.8" fill="#fff"/>
<polygon points="538.4,541 531.9,549 538.4,557" fill="#fff"/>
<circle cx="550.4" cy="514.2" r="3.8" fill="#fff"/>
<circle cx="550.4" cy="537.4" r="3.8" fill="#fff"/>
<circle cx="550.4" cy="560.9" r="3.8" fill="#fff"/>
<circle cx="550.4" cy="582.7" r="3.8" fill="#fff"/>
<circle cx="544.4" cy="549.0" r="1.8" fill="#fff"/>
<polygon points="560.4,541 553.9,549 560.4,557" fill="#fff"/>
<circle cx="572.5" cy="514.2" r="3.8" fill="#fff"/>
<circle cx="572.5" cy="537.4" r="3.8" fill="#fff"/>
<circle cx="572.5" cy="560.9" r="3.8" fill="#fff"/>
<circle cx="572.5" cy="582.7" r="3.8" fill="#fff"/>
<circle cx="566.5" cy="549.0" r="1.8" fill="#fff"/>
<polygon points="582.5,541 576.0,549 582.5,557" fill="#fff"/>
<circle cx="594.5" cy="514.2" r="3.8" fill="#fff"/>
<circle cx="594.5" cy="537.4" r="3.8" fill="#fff"/>
<circle cx="594.5" cy="560.9" r="3.8" fill="#fff"/>
<circle cx="594.5" cy="582.7" r="3.8" fill="#fff"/>
<circle cx="588.5" cy="549.0" r="1.8" fill="#fff"/>
<polygon points="604.5,541 598.0,549 604.5,557" fill="#fff"/>
<circle cx="616.5" cy="514.2" r="3.8" fill="#fff"/>
<circle cx="616.5" cy="537.4" r="3.8" fill="#fff"/>
<circle cx="616.5" cy="560.9" r="3.8" fill="#fff"/>
<circle cx="616.5" cy="582.7" r="3.8" fill="#fff"/>
<circle cx="610.5" cy="549.0" r="1.8" fill="#fff"/>
<polygon points="626.5,541 620.0,549 626.5,557" fill="#fff"/>
<circle cx="638.6" cy="514.2" r="3.8" fill="#fff"/>
<circle cx="638.6" cy="537.4" r="3.8" fill="#fff"/>
<circle cx="638.6" cy="560.9" r="3.8" fill="#fff"/>
<circle cx="638.6" cy="582.7" r="3.8" fill="#fff"/>
<circle cx="632.6" cy="549.0" r="1.8" fill="#fff"/>
<polygon points="648.6,541 642.1,549 648.6,557" fill="#fff"/>
<circle cx="660.6" cy="514.2" r="3.8" fill="#fff"/>
<circle cx="660.6" cy="537.4" r="3.8" fill="#fff"/>
<circle cx="660.6" cy="560.9" r="3.8" fill="#fff"/>
<circle cx="660.6" cy="582.7" r="3.8" fill="#fff"/>
<circle cx="654.6" cy="549.0" r="1.8" fill="#fff"/>
<polygon points="670.6,541 664.1,549 670.6,557" fill="#fff"/>
<circle cx="682.7" cy="514.2" r="3.8" fill="#fff"/>
<circle cx="682.7" cy="537.4" r="3.8" fill="#fff"/>
<circle cx="682.7" cy="560.9" r="3.8" fill="#fff"/>
<circle cx="682.7" cy="582.7" r="3.8" fill="#fff"/>
<circle cx="676.7" cy="549.0" r="1.8" fill="#fff"/>
<polygon points="692.7,541 686.2,549 692.7,557" fill="#fff"/>
<circle cx="704.7" cy="514.2" r="3.8" fill="#fff"/>
<circle cx="704.7" cy="537.4" r="3.8" fill="#fff"/>
<circle cx="704.7" cy="560.9" r="3.8" fill="#fff"/>
<circle cx="704.7" cy="582.7" r="3.8" fill="#fff"/>
<circle cx="698.7" cy="549.0" r="1.8" fill="#fff"/>
<polygon points="714.7,541 708.2,549 714.7,557" fill="#fff"/>
<circle cx="726.7" cy="514.2" r="3.8" fill="#fff"/>
<circle cx="726.7" cy="537.4" r="3.8" fill="#fff"/>
<circle cx="726.7" cy="560.9" r="3.8" fill="#fff"/>
<circle cx="726.7" cy="582.7" r="3.8" fill="#fff"/>
<circle cx="720.7" cy="549.0" r="1.8" fill="#fff"/>
<polygon points="736.7,541 730.2,549 736.7,557" fill="#fff"/>
<circle cx="748.8" cy="514.2" r="3.8" fill="#fff"/>
<circle cx="748.8" cy="537.4" r="3.8" fill="#fff"/>
<circle cx="748.8" cy="560.9" r="3.8" fill="#fff"/>
<circle cx="748.8" cy="582.7" r="3.8" fill="#fff"/>
<circle cx="742.8" cy="549.0" r="1.8" fill="#fff"/>
<polygon points="758.8,541 752.3,549 758.8,557" fill="#fff"/>
<rect x="383.3" y="506.7" width="3.6" height="3.5" fill="#fff"/>
<rect x="383.3" y="586.7" width="3.6" height="3.5" fill="#fff"/>
<rect x="427.4" y="506.7" width="3.6" height="3.5" fill="#fff"/>
<rect x="427.4" y="586.7" width="3.6" height="3.5" fill="#fff"/>
<rect x="471.5" y="506.7" width="3.6" height="3.5" fill="#fff"/>
<rect x="471.5" y="586.7" width="3.6" height="3.5" fill="#fff"/>
<rect x="515.6" y="506.7" width="3.6" height="3.5" fill="#fff"/>
<rect x="515.6" y="586.7" width="3.6" height="3.5" fill="#fff"/>
<rect x="559.6" y="506.7" width="3.6" height="3.5" fill="#fff"/>
<rect x="559.6" y="586.7" width="3.6" height="3.5" fill="#fff"/>
<rect x="603.7" y="506.7" width="3.6" height="3.5" fill="#fff"/>
<rect x="603.7" y="586.7" width="3.6" height="3.5" fill="#fff"/>
<rect x="647.8" y="506.7" width="3.6" height="3.5" fill="#fff"/>
<rect x="647.8" y="586.7" width="3.6" height="3.5" fill="#fff"/>
<rect x="691.9" y="506.7" width="3.6" height="3.5" fill="#fff"/>
<rect x="691.9" y="586.7" width="3.6" height="3.5" fill="#fff"/>
<rect x="736.0" y="506.7" width="3.6" height="3.5" fill="#fff"/>
<rect x="736.0" y="586.7" width="3.6" height="3.5" fill="#fff"/>
<line x1="162.7" y1="226.4" x2="369.4" y2="505.7" stroke="#fff" stroke-width="12" stroke-linecap="butt"/>
<line x1="758.5" y1="226" x2="750.5" y2="505" stroke="#fff" stroke-width="12" stroke-linecap="butt"/>
<line x1="173.1" y1="794.9" x2="371.3" y2="591" stroke="#fff" stroke-width="12" stroke-linecap="butt"/>
<line x1="754" y1="591" x2="898" y2="810.5" stroke="#fff" stroke-width="12" stroke-linecap="butt"/>
<line x1="162.7" y1="226.4" x2="369.4" y2="505.7" stroke="#000" stroke-width="5.8" stroke-linecap="butt"/>
<line x1="758.5" y1="226" x2="750.5" y2="505" stroke="#000" stroke-width="5.8" stroke-linecap="butt"/>
<line x1="173.1" y1="794.9" x2="371.3" y2="591" stroke="#000" stroke-width="5.8" stroke-linecap="butt"/>
<line x1="754" y1="591" x2="898" y2="810.5" stroke="#000" stroke-width="5.8" stroke-linecap="butt"/>
<text x="104" y="209" font-family="Liberation Sans" font-size="60" stroke="#000" stroke-width="1.6">72</text>
<text x="727" y="210" font-family="Liberation Sans" font-size="61" stroke="#000" stroke-width="1.6">55</text>
<text x="104" y="854.5" font-family="Liberation Sans" font-size="61.5" stroke="#000" stroke-width="1.6" textLength="65" lengthAdjust="spacingAndGlyphs">18</text>
<path d="M915.9,810.9 L922,810.9 L922,853.8 L915.9,853.8 Z M905.9,818.1 L912.5,818.1 L915.9,810.9 L916,824 L905.9,824 Z" fill="#000"/>
<rect x="1263.0" y="103.0" width="2.0" height="3.0" fill="#000"/>
<g transform="translate(890 110) scale(0.27108)" stroke="#000" stroke-linejoin="round" fill="none">
<path d="M126.0,540.0 L443.0,700.0 L658.0,825.0 L658.0,970.0 L440.0,885.0 L269.0,765.0 L126.0,675.0 Z" stroke-width="14" fill="#000"/>
<path d="M142,561 l11,0 l5,22 l-11,0 z" fill="#fff" stroke="none"/>
<path d="M171,576 l11,0 l5,22 l-11,0 z" fill="#fff" stroke="none"/>
<path d="M200,591 l11,0 l5,22 l-11,0 z" fill="#fff" stroke="none"/>
<path d="M228,607 l11,0 l5,22 l-11,0 z" fill="#fff" stroke="none"/>
<path d="M257,622 l11,0 l5,22 l-11,0 z" fill="#fff" stroke="none"/>
<path d="M286,638 l11,0 l5,22 l-11,0 z" fill="#fff" stroke="none"/>
<path d="M315,653 l11,0 l5,22 l-11,0 z" fill="#fff" stroke="none"/>
<path d="M344,669 l11,0 l5,22 l-11,0 z" fill="#fff" stroke="none"/>
<path d="M372,684 l11,0 l5,22 l-11,0 z" fill="#fff" stroke="none"/>
<path d="M401,700 l11,0 l5,22 l-11,0 z" fill="#fff" stroke="none"/>
<path d="M430,715 l11,0 l5,22 l-11,0 z" fill="#fff" stroke="none"/>
<path d="M459,730 l11,0 l5,22 l-11,0 z" fill="#fff" stroke="none"/>
<path d="M488,746 l11,0 l5,22 l-11,0 z" fill="#fff" stroke="none"/>
<path d="M516,761 l11,0 l5,22 l-11,0 z" fill="#fff" stroke="none"/>
<path d="M545,777 l11,0 l5,22 l-11,0 z" fill="#fff" stroke="none"/>
<path d="M574,792 l11,0 l5,22 l-11,0 z" fill="#fff" stroke="none"/>
<path d="M603,808 l11,0 l5,22 l-11,0 z" fill="#fff" stroke="none"/>
<path d="M632,823 l11,0 l5,22 l-11,0 z" fill="#fff" stroke="none"/>
<path d="M142,594 l11,0 l5,22 l-11,0 z" fill="#fff" stroke="none"/>
<path d="M171,609 l11,0 l5,22 l-11,0 z" fill="#fff" stroke="none"/>
<path d="M200,624 l11,0 l5,22 l-11,0 z" fill="#fff" stroke="none"/>
<path d="M228,640 l11,0 l5,22 l-11,0 z" fill="#fff" stroke="none"/>
<path d="M257,655 l11,0 l5,22 l-11,0 z" fill="#fff" stroke="none"/>
<path d="M286,671 l11,0 l5,22 l-11,0 z" fill="#fff" stroke="none"/>
<path d="M315,686 l11,0 l5,22 l-11,0 z" fill="#fff" stroke="none"/>
<path d="M344,702 l11,0 l5,22 l-11,0 z" fill="#fff" stroke="none"/>
<path d="M372,717 l11,0 l5,22 l-11,0 z" fill="#fff" stroke="none"/>
<path d="M401,733 l11,0 l5,22 l-11,0 z" fill="#fff" stroke="none"/>
<path d="M430,748 l11,0 l5,22 l-11,0 z" fill="#fff" stroke="none"/>
<path d="M459,763 l11,0 l5,22 l-11,0 z" fill="#fff" stroke="none"/>
<path d="M488,779 l11,0 l5,22 l-11,0 z" fill="#fff" stroke="none"/>
<path d="M516,794 l11,0 l5,22 l-11,0 z" fill="#fff" stroke="none"/>
<path d="M545,810 l11,0 l5,22 l-11,0 z" fill="#fff" stroke="none"/>
<path d="M574,825 l11,0 l5,22 l-11,0 z" fill="#fff" stroke="none"/>
<path d="M603,841 l11,0 l5,22 l-11,0 z" fill="#fff" stroke="none"/>
<path d="M632,856 l11,0 l5,22 l-11,0 z" fill="#fff" stroke="none"/>
<path d="M142,627 l11,0 l5,22 l-11,0 z" fill="#fff" stroke="none"/>
<path d="M171,642 l11,0 l5,22 l-11,0 z" fill="#fff" stroke="none"/>
<path d="M200,657 l11,0 l5,22 l-11,0 z" fill="#fff" stroke="none"/>
<path d="M228,673 l11,0 l5,22 l-11,0 z" fill="#fff" stroke="none"/>
<path d="M257,688 l11,0 l5,22 l-11,0 z" fill="#fff" stroke="none"/>
<path d="M286,704 l11,0 l5,22 l-11,0 z" fill="#fff" stroke="none"/>
<path d="M315,719 l11,0 l5,22 l-11,0 z" fill="#fff" stroke="none"/>
<path d="M344,735 l11,0 l5,22 l-11,0 z" fill="#fff" stroke="none"/>
<path d="M372,750 l11,0 l5,22 l-11,0 z" fill="#fff" stroke="none"/>
<path d="M401,766 l11,0 l5,22 l-11,0 z" fill="#fff" stroke="none"/>
<path d="M430,781 l11,0 l5,22 l-11,0 z" fill="#fff" stroke="none"/>
<path d="M459,796 l11,0 l5,22 l-11,0 z" fill="#fff" stroke="none"/>
<path d="M488,812 l11,0 l5,22 l-11,0 z" fill="#fff" stroke="none"/>
<path d="M516,827 l11,0 l5,22 l-11,0 z" fill="#fff" stroke="none"/>
<path d="M545,843 l11,0 l5,22 l-11,0 z" fill="#fff" stroke="none"/>
<path d="M574,858 l11,0 l5,22 l-11,0 z" fill="#fff" stroke="none"/>
<path d="M603,874 l11,0 l5,22 l-11,0 z" fill="#fff" stroke="none"/>
<path d="M632,889 l11,0 l5,22 l-11,0 z" fill="#fff" stroke="none"/>
<path d="M142,660 l11,0 l5,22 l-11,0 z" fill="#fff" stroke="none"/>
<path d="M171,675 l11,0 l5,22 l-11,0 z" fill="#fff" stroke="none"/>
<path d="M200,690 l11,0 l5,22 l-11,0 z" fill="#fff" stroke="none"/>
<path d="M228,706 l11,0 l5,22 l-11,0 z" fill="#fff" stroke="none"/>
<path d="M257,721 l11,0 l5,22 l-11,0 z" fill="#fff" stroke="none"/>
<path d="M286,737 l11,0 l5,22 l-11,0 z" fill="#fff" stroke="none"/>
<path d="M315,752 l11,0 l5,22 l-11,0 z" fill="#fff" stroke="none"/>
<path d="M344,768 l11,0 l5,22 l-11,0 z" fill="#fff" stroke="none"/>
<path d="M372,783 l11,0 l5,22 l-11,0 z" fill="#fff" stroke="none"/>
<path d="M401,799 l11,0 l5,22 l-11,0 z" fill="#fff" stroke="none"/>
<path d="M430,814 l11,0 l5,22 l-11,0 z" fill="#fff" stroke="none"/>
<path d="M459,829 l11,0 l5,22 l-11,0 z" fill="#fff" stroke="none"/>
<path d="M488,845 l11,0 l5,22 l-11,0 z" fill="#fff" stroke="none"/>
<path d="M516,860 l11,0 l5,22 l-11,0 z" fill="#fff" stroke="none"/>
<path d="M545,876 l11,0 l5,22 l-11,0 z" fill="#fff" stroke="none"/>
<path d="M574,891 l11,0 l5,22 l-11,0 z" fill="#fff" stroke="none"/>
<path d="M603,907 l11,0 l5,22 l-11,0 z" fill="#fff" stroke="none"/>
<path d="M632,922 l11,0 l5,22 l-11,0 z" fill="#fff" stroke="none"/>
<path d="M55.0,97.5 L55.0,375.0 L67.5,392.5 L80.0,392.5" stroke-width="22" fill="none"/>
<path d="M55.0,107.5 L65.0,97.5 L102.5,97.5 L119.0,125.0 L121.0,157.5 L150.0,184.0 L157.5,205.0 L165.0,200.0 L175.0,190.0" stroke-width="21" fill="none"/>
<path d="M72.5,120.0 L86.0,120.0 L100.0,145.0 L101.0,161.0 L150.0,199.0" stroke-width="11" fill="none"/>
<path d="M175.0,190.0 L172.5,135.0 L192.5,100.0 L212.5,85.0 L252.5,59.0 L277.5,55.0 L430.0,150.0 L432.5,192.5 L422.5,202.5 L380.0,220.0 L345.0,200.0" stroke-width="21" fill="none"/>
<path d="M240.0,80.0 L422.5,165.0" stroke-width="17" fill="none"/>
<path d="M220.0,97.5 L345.0,172.5 L360.0,190.0 L380.0,190.0 L425.0,162.5" stroke-width="17" fill="none"/>
<path d="M180.0,150.0 L180.0,165.0 L267.5,216.0 L345.0,175.0" stroke-width="18" fill="none"/>
<path d="M267.5,216.0 L245.0,242.5 L250.0,260.0 L335.0,300.0" stroke-width="17" fill="none"/>
<path d="M345.0,200.0 L390.0,237.5 L380.0,285.0" stroke-width="17" fill="none"/>
<path d="M200.0,252.5 L220.0,252.5 L220.0,285.0" stroke-width="16" fill="none"/>
<path d="M80.0,367.5 L245.0,280.0 L335.0,311.0" stroke-width="18" fill="none"/>
<path d="M340.0,290.0 L287.5,440.0 L287.5,520.0" stroke-width="18" fill="none"/>
<path d="M372.5,287.5 L345.0,400.0" stroke-width="16" fill="none"/>
<path d="M352.5,300.0 L332.5,400.0" stroke-width="10" fill="none"/>
<path d="M380.0,285.0 L460.0,330.0 L455.0,345.0" stroke-width="16" fill="none"/>
<path d="M380.0,340.0 L440.0,360.0 L535.0,400.0" stroke-width="13" fill="none"/>
<path d="M325.0,405.0 L540.0,445.0" stroke-width="16" fill="none"/>
<path d="M80.0,372.5 L282.5,475.0" stroke-width="18" fill="none"/>
<path d="M105.0,452.5 L125.0,450.0 L240.0,515.0" stroke-width="16" fill="none"/>
<path d="M305.0,442.5 L500.0,555.0 L540.0,550.0" stroke-width="17" fill="none"/>
<path d="M540.0,400.0 L570.0,540.0" stroke-width="16" fill="none"/>
<path d="M78.0,390.0 L75.0,760.0 L290.0,870.0 L290.0,940.0 L500.0,1060.0 L715.0,1140.0 L900.0,1040.0" stroke-width="23" fill="none"/>
<path d="M93.4,534.9 L93.4,669.9 L143.4,714.9 L268.4,769.9" stroke-width="13" fill="none"/>
<path d="M88.4,699.9 L88.4,759.9 L233.4,834.9" stroke-width="13" fill="none"/>
<path d="M233.4,847.4 L233.4,794.9" stroke-width="13" fill="none"/>
<path d="M253.4,789.9 L328.4,804.9 L498.4,904.9 L493.4,924.9 L318.4,834.9 L253.4,824.9 Z" stroke-width="13" fill="#fff"/>
<path d="M313.4,839.9 L468.4,924.9" stroke-width="8" fill="none"/>
<path d="M308.4,884.9 L308.4,934.9" stroke-width="11" fill="none"/>
<path d="M368.4,909.9 L368.4,969.9" stroke-width="11" fill="none"/>
<path d="M438.4,959.9 L438.4,1014.9" stroke-width="11" fill="none"/>
<path d="M488.4,939.9 L488.4,1039.9" stroke-width="13" fill="none"/>
<path d="M548.4,974.9 L548.4,1034.9" stroke-width="11" fill="none"/>
<path d="M573.4,969.9 L573.4,1034.9" stroke-width="11" fill="none"/>
<path d="M598.4,999.9 L598.4,1049.9" stroke-width="11" fill="none"/>
<path d="M328.4,859.9 L498.4,954.9" stroke-width="10" fill="none"/>
<path d="M318.4,924.9 L493.4,1024.9" stroke-width="10" fill="none"/>
<path d="M498.4,914.9 L548.4,974.9 L593.4,964.9 L658.4,999.9" stroke-width="13" fill="none"/>
<path d="M540.0,396.0 L560.0,390.0 L830.0,355.0 L937.0,384.0 L1002.0,394.0 L1142.0,524.0 L1144.0,639.0" stroke-width="21" fill="none"/>
<path d="M545.0,396.0 L575.0,545.0" stroke-width="16" fill="none"/>
<path d="M565.7,400.1 L593.2,515.1" stroke-width="8" fill="none"/>
<path d="M583.2,412.6 L783.2,392.6 L790.7,415.1 L588.2,437.6 Z" stroke-width="16" fill="none"/>
<path d="M603.2,460.1 L803.2,445.1 L810.7,475.1 L608.2,500.1 Z" stroke-width="16" fill="none"/>
<path d="M788.2,372.6 L830.7,485.1" stroke-width="13" fill="none"/>
<path d="M818.2,385.1 L922.2,395.1" stroke-width="13" fill="none"/>
<path d="M823.2,415.1 L922.2,425.1" stroke-width="13" fill="none"/>
<path d="M833.2,445.1 L922.2,460.1" stroke-width="13" fill="none"/>
<path d="M833.2,470.1 L922.2,485.1" stroke-width="13" fill="none"/>
<path d="M593.2,545.1 L883.2,490.1 L922.2,495.1" stroke-width="17" fill="none"/>
<path d="M887.0,494.0 L1007.0,519.0 L1047.0,554.0 L1052.0,584.0 L1027.0,614.0 L1017.0,639.0 L1017.0,684.0 L1032.0,744.0 L1052.0,744.0" stroke-width="14" fill="none"/>
<path d="M508.2,580.1 L728.2,567.6 L728.2,590.1 L508.2,605.1 Z" stroke-width="14" fill="none"/>
<path d="M728.2,567.6 L848.2,635.1 L848.2,645.1" stroke-width="14" fill="none"/>
<path d="M743.2,570.1 L858.2,605.1 L908.2,595.1" stroke-width="13" fill="none"/>
<path d="M528.2,620.1 L718.2,735.1" stroke-width="17" fill="none"/>
<path d="M718.2,735.1 L858.2,655.1" stroke-width="17" fill="none"/>
<path d="M308.2,470.1 L308.2,575.1 L493.2,645.1" stroke-width="13" fill="none"/>
<path d="M333.2,495.1 L493.2,575.1" stroke-width="10" fill="none"/>
<path d="M343.2,510.1 L468.2,575.1 L468.2,640.1" stroke-width="10" fill="none"/>
<path d="M308.2,445.1 L498.2,560.1" stroke-width="14" fill="none"/>
<path d="M488.2,595.1 L488.2,645.1" stroke-width="13" fill="none"/>
<path d="M528.2,645.1 L558.2,715.1 L578.2,720.1" stroke-width="13" fill="none"/>
<path d="M598.2,695.1 L598.2,745.1 L683.2,795.1" stroke-width="13" fill="none"/>
<path d="M700.0,722.0 L910.0,640.0" stroke-width="21" fill="none"/>
<path d="M705.0,722.0 L715.0,1146.0" stroke-width="23" fill="none"/>
<path d="M722.1,750.9 L727.1,1140.9" stroke-width="8" fill="none"/>
<path d="M717.1,1145.9 L927.1,1040.9" stroke-width="18" fill="none"/>
<path d="M727.1,1060.9 L877.1,1000.9" stroke-width="10" fill="none"/>
<path d="M917.1,628.6 L922.1,738.6 L887.1,748.6 L887.1,903.6" stroke-width="17" fill="none"/>
<path d="M887.1,745.9 L887.1,930.9 L927.1,925.9 L927.1,1010.9 L847.1,1060.9" stroke-width="14" fill="none"/>
<path d="M792.1,840.9 L842.1,818.4 L847.1,845.9 L864.6,845.9 L864.6,873.4 L842.1,885.9 L837.1,935.9 L792.1,945.9 Z" stroke-width="14" fill="none"/>
<path d="M897.1,820.9 L987.1,835.9 L1052.1,890.9" stroke-width="14" fill="none"/>
<path d="M887.1,880.9 L932.1,875.9 L977.1,895.9 L977.1,940.9 L942.1,950.9" stroke-width="13" fill="none"/>
<path d="M977.1,940.9 L1047.1,980.9 L1042.1,1070.9 L1007.1,1080.9 L1007.1,1125.9 L1067.1,1140.9" stroke-width="14" fill="none"/>
<path d="M927.1,1020.9 L977.1,1030.9 L1027.1,1050.9" stroke-width="10" fill="none"/>
<path d="M1142.1,523.6 L1077.1,623.6 L1032.1,618.6" stroke-width="14" fill="none"/>
<path d="M1077.1,623.6 L1077.1,728.6" stroke-width="14" fill="none"/>
<path d="M1132.1,563.6 L1132.1,643.6 L1077.1,728.6" stroke-width="13" fill="none"/>
<path d="M1182.1,598.6 L1242.1,598.6 L1244.6,743.6 L1169.6,828.6 L1167.1,623.6 Z" stroke-width="17" fill="none"/>
<path d="M1187.1,618.6 L1227.1,623.6 L1227.1,738.6 L1172.1,803.6" stroke-width="8" fill="none"/>
<path d="M1047.1,700.9 L1047.1,1140.9" stroke-width="14" fill="none"/>
<path d="M1069.6,760.9 L1069.6,1130.9" stroke-width="8" fill="none"/>
<path d="M1092.1,730.9 L1092.1,975.9 L1147.1,950.9 L1147.1,1030.9 L1067.1,1140.9" stroke-width="14" fill="none"/>
<path d="M1167.1,700.9 L1167.1,950.9" stroke-width="14" fill="none"/>
<path d="M1242.1,700.9 L1242.1,750.9 L1167.1,850.9" stroke-width="14" fill="none"/>
<path d="M1089.6,728.6 L1147.1,653.6" stroke-width="10" fill="none"/>
<path d="M304.6,888.4 L304.6,938.4" stroke-width="12" fill="none"/>
<path d="M325.5,867.6 L325.5,896.7" stroke-width="10" fill="none"/>
<path d="M363.0,909.2 L363.0,959.3" stroke-width="10" fill="none"/>
<path d="M346.3,875.9 L479.7,950.9" stroke-width="9" fill="none"/>
<path d="M338.0,896.7 L358.8,913.4 L358.8,934.3" stroke-width="10" fill="none"/>
<path d="M388.0,917.6 L438.0,950.9 L438.0,992.6" stroke-width="10" fill="none"/>
<path d="M354.6,955.1 L438.0,1000.9" stroke-width="9" fill="none"/>
<path d="M446.3,984.3 L488.0,1000.9 L488.0,1038.4" stroke-width="12" fill="none"/>
<path d="M488.0,934.3 L488.0,967.6" stroke-width="12" fill="none"/>
<path d="M496.3,967.6 L538.0,992.6 L533.8,1000.9" stroke-width="12" fill="none"/>
<path d="M521.3,942.6 L538.0,950.9 L538.0,984.3" stroke-width="12" fill="none"/>
<path d="M550.5,959.3 L550.5,1034.3" stroke-width="12" fill="none"/>
<path d="M575.5,950.9 L575.5,1034.3" stroke-width="12" fill="none"/>
<path d="M596.3,984.3 L596.3,1046.8" stroke-width="12" fill="none"/>
<path d="M563.0,950.9 L583.8,942.6 L604.7,967.6" stroke-width="10" fill="none"/>
<path d="M608.8,992.6 L683.8,1034.3 L679.7,1046.8" stroke-width="14" fill="none"/>
<path d="M663.0,838.4 L663.0,971.8" stroke-width="14" fill="none"/>
<path d="M475.5,717.6 L683.8,805.1 L700.5,817.6" stroke-width="14" fill="none"/>
<path d="M596.3,725.9 L596.3,742.6 L638.0,771.7 L688.0,800.9" stroke-width="12" fill="none"/>
<path d="M496.3,1067.6 L538.0,1046.8" stroke-width="14" fill="none"/>
<path d="M246.3,859.2 L296.3,875.9" stroke-width="10" fill="none"/>
<path d="M263.0,838.4 L296.3,825.9" stroke-width="8" fill="none"/>
<path d="M246.3,800.9 L246.3,838.4" stroke-width="10" fill="none"/>
</g>
</svg>
</body></html>
